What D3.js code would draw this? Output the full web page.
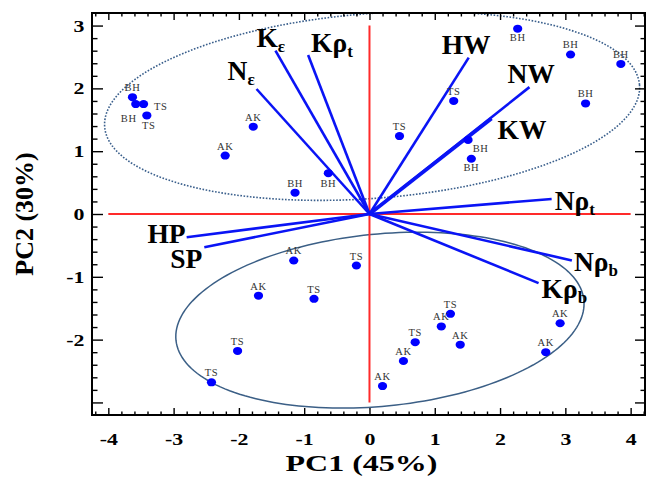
<!DOCTYPE html>
<html><head><meta charset="utf-8">
<script src="https://cdn.jsdelivr.net/npm/d3@7"></script>
<style>
html,body{margin:0;padding:0;background:#fff;}
svg text{font-family:"Liberation Serif","Times New Roman",serif;}
</style></head>
<body>
<svg id="chart" width="646" height="478"></svg>
<script>
// ---- data ----
const sampleLabels = ["BH","BH","TS","TS","AK","AK","BH","BH","BH","BH","BH","BH","TS","TS","BH","BH",
  "AK","TS","AK","TS","TS","TS","TS","AK","AK","TS","AK","AK","AK","AK"];
const sampleX = [-3.63,-3.58,-3.46,-3.41,-1.78,-2.21,-1.14,-0.63,2.27,3.08,3.85,3.31,1.29,0.46,1.51,1.56,
  -1.16,-0.20,-1.70,-0.85,-2.02,-2.42,1.24,1.10,1.39,0.70,0.52,0.20,2.92,2.70];
const sampleY = [1.86,1.75,1.75,1.57,1.39,0.93,0.34,0.65,2.95,2.54,2.39,1.76,1.80,1.24,1.18,0.88,
  -0.74,-0.82,-1.30,-1.35,-2.18,-2.68,-1.59,-1.79,-2.08,-2.04,-2.34,-2.74,-1.74,-2.20];

const varBase = ["N","K","Kρ","HW","NW","KW","Nρ","HP","SP","Nρ","Kρ"];
const varSub  = ["ε","ε","t","","","","t","","","b","b"];
const varX = [-1.73,-1.44,-0.94,1.52,2.45,1.87,2.79,-2.80,-2.53,3.10,2.59];
const varY = [1.99,2.60,2.53,2.49,2.02,1.52,0.24,-0.37,-0.53,-0.74,-1.10];

const xTicks = [-4,-3,-2,-1,0,1,2,3,4];
const yTicks = [-2,-1,0,1,2,3];
const xTitle = "PC1 (45%)";
const yTitle = "PC2 (30%)";

// confidence ellipses: centre, semi-axes, rotation (deg)
const ellipseCx = [0.04, 0.16];
const ellipseCy = [1.72, -1.69];
const ellipseA  = [4.11, 3.14];
const ellipseB  = [1.47, 1.37];
const ellipseAngle = [4.7, 5.9];

// ---- layout ----
const svg = d3.select("#chart");
const L = 92, R = 645, T = 13, B = 415;
const x = d3.scaleLinear().domain([-4.25, 4.22]).range([L, R]);
const y = d3.scaleLinear().domain([-3.2, 3.2]).range([B, T]);

// label offsets (pixels) for sample labels
const sampleLabelOff = sampleLabels.map(() => [0, -6, "middle"]);
sampleLabelOff[1] = [-7, 17.5, "middle"];
sampleLabelOff[2] = [10.5, 6, "start"];
sampleLabelOff[3] = [2, 14, "middle"];
sampleLabelOff[7] = [0, 13.5, "middle"];
sampleLabelOff[8] = [0, 12.7, "middle"];
sampleLabelOff[14] = [12.5, 11.7, "middle"];
sampleLabelOff[15] = [0, 12.7, "middle"];

// label offsets (pixels) for variable labels
const varLabelOff = [[-29,-9,"start"],[-19,-4,"start"],[3,-3,"start"],[-27,-4,"start"],[-22,-4,"start"],
  [6,20,"start"],[3,11,"start"],[-1,6,"end"],[-2,21,"end"],[2,11,"start"],[3,15,"start"]];

svg.append("defs").append("clipPath").attr("id","clip")
  .append("rect").attr("x",L).attr("y",T).attr("width",R-L).attr("height",B-T);

// ellipses
const line = d3.line().x(d => x(d[0])).y(d => y(d[1]));
ellipseCx.forEach((cx, i) => {
  const th = ellipseAngle[i] * Math.PI / 180;
  const pts = d3.range(0, 361, 2).map(deg => {
    const t = deg * Math.PI / 180;
    return [cx + ellipseA[i]*Math.cos(t)*Math.cos(th) - ellipseB[i]*Math.sin(t)*Math.sin(th),
            ellipseCy[i] + ellipseA[i]*Math.cos(t)*Math.sin(th) + ellipseB[i]*Math.sin(t)*Math.cos(th)];
  });
  svg.append("path").attr("clip-path","url(#clip)")
    .attr("d", line(pts)).attr("fill","none")
    .attr("stroke", i === 0 ? "#3a5f8c" : "#3b5f86")
    .attr("stroke-width", i === 0 ? 1.6 : 1.5)
    .attr("stroke-dasharray", i === 0 ? "1.6,1.6" : null);
});

// red reference lines
svg.append("line").attr("x1",x(-4)).attr("x2",x(4)).attr("y1",y(0)).attr("y2",y(0))
  .attr("stroke","#ff2a2a").attr("stroke-width",2);
svg.append("line").attr("x1",x(0)).attr("x2",x(0)).attr("y1",y(3)).attr("y2",y(-3))
  .attr("stroke","#ff2a2a").attr("stroke-width",2);

// vectors
varX.forEach((vx, i) => {
  svg.append("line").attr("x1",x(0)).attr("y1",y(0)).attr("x2",x(vx)).attr("y2",y(varY[i]))
    .attr("stroke","#0a14f5").attr("stroke-width", varBase[i] === "KW" ? 3.6 : 2.6);
});

// points
svg.append("g").selectAll("ellipse").data(sampleX).join("ellipse")
  .attr("cx",(d)=>x(d)).attr("cy",(d,i)=>y(sampleY[i])).attr("rx",4.6).attr("ry",4)
  .attr("fill","#0000ff");

// point labels
svg.append("g").selectAll("text").data(sampleLabels).join("text")
  .attr("x",(d,i)=>x(sampleX[i]) + sampleLabelOff[i][0])
  .attr("y",(d,i)=>y(sampleY[i]) + sampleLabelOff[i][1])
  .attr("text-anchor",(d,i)=>sampleLabelOff[i][2])
  .attr("font-size",10.5).attr("letter-spacing","0.6px").attr("fill","#333")
  .text(d=>d);

// variable labels
varBase.forEach((b, i) => {
  const t = svg.append("text")
    .attr("x", x(varX[i]) + varLabelOff[i][0])
    .attr("y", y(varY[i]) + varLabelOff[i][1])
    .attr("text-anchor", varLabelOff[i][2])
    .attr("font-size", 27.5).attr("font-weight","bold").attr("fill","#000");
  t.append("tspan").text(b);
  if (varSub[i]) t.append("tspan").attr("font-size",17).attr("dy",5).text(varSub[i]);
});

// axes
const minorX = d3.range(-4.2, 4.21, 0.2).map(v => +v.toFixed(1)).filter(v => Math.abs(v - Math.round(v)) > 1e-6);
const minorY = d3.range(-3.0, 3.01, 0.2).map(v => +v.toFixed(1)).filter(v => Math.abs(v - Math.round(v)) > 1e-6);
const majorY = [-3,-2,-1,0,1,2,3];

function styleAxis(g){
  g.select(".domain").remove();
  g.selectAll(".tick line").attr("stroke","#000").attr("stroke-width",1.4);
  g.selectAll("text").attr("font-family","'Liberation Serif',serif").attr("font-weight","bold")
    .attr("font-size",17.5).attr("fill","#000").attr("transform","scale(1.25,1)");
}
const fmt = d => String(d);
svg.append("g").attr("transform",`translate(0,${B})`)
  .call(d3.axisBottom(x).tickValues(xTicks).tickSize(-7).tickPadding(18).tickFormat(fmt)).call(styleAxis);
svg.append("g").attr("transform",`translate(0,${B})`)
  .call(d3.axisBottom(x).tickValues(minorX).tickSize(-3.5).tickFormat("")).call(styleAxis);
svg.append("g").attr("transform",`translate(0,${T})`)
  .call(d3.axisTop(x).tickValues(xTicks).tickSize(-7).tickFormat("")).call(styleAxis);
svg.append("g").attr("transform",`translate(0,${T})`)
  .call(d3.axisTop(x).tickValues(minorX).tickSize(-3.5).tickFormat("")).call(styleAxis);

svg.append("g").attr("transform",`translate(${L},0)`)
  .call(d3.axisLeft(y).tickValues(majorY).tickSize(-11).tickPadding(6)
    .tickFormat(d => yTicks.includes(d) ? String(d) : "")).call(styleAxis);
svg.append("g").attr("transform",`translate(${L},0)`)
  .call(d3.axisLeft(y).tickValues(minorY).tickSize(-5.5).tickFormat("")).call(styleAxis);
svg.append("g").attr("transform",`translate(${R},0)`)
  .call(d3.axisRight(y).tickValues(majorY).tickSize(-10).tickFormat("")).call(styleAxis);
svg.append("g").attr("transform",`translate(${R},0)`)
  .call(d3.axisRight(y).tickValues(minorY).tickSize(-4.5).tickFormat("")).call(styleAxis);

// frame
svg.append("rect").attr("x",L).attr("y",T).attr("width",R-L).attr("height",B-T)
  .attr("fill","none").attr("stroke","#000").attr("stroke-width",2);

// titles
svg.append("text").attr("x",(L+R)/2 - 7).attr("y",471).attr("text-anchor","middle")
  .attr("font-size",24).attr("font-weight","bold")
  .attr("textLength",152).attr("lengthAdjust","spacingAndGlyphs").text(xTitle);
svg.append("text").attr("transform",`translate(33,${y(0)}) rotate(-90)`).attr("text-anchor","middle")
  .attr("font-size",26).attr("font-weight","bold").text(yTitle);
</script>
</body></html>
